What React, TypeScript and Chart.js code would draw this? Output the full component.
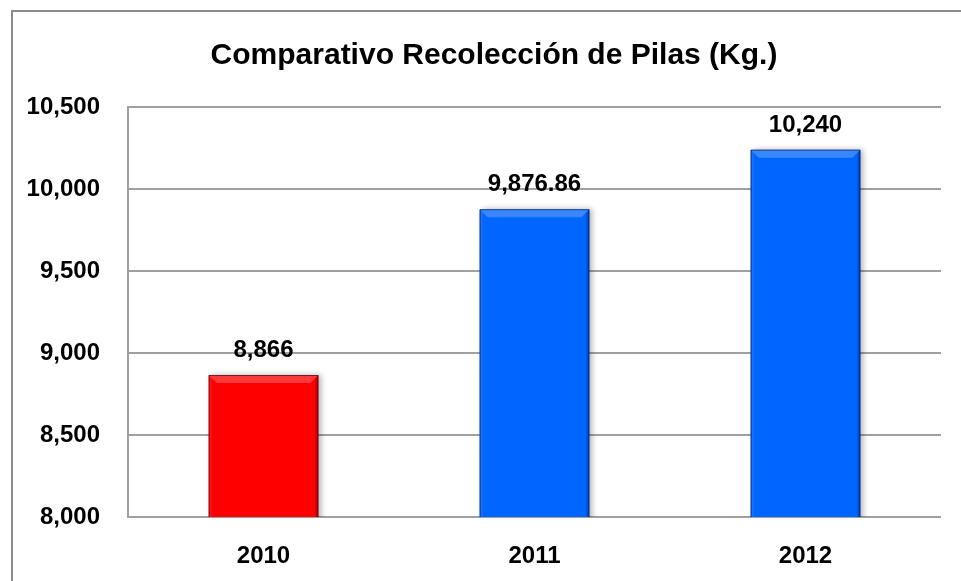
import React, { useEffect, useRef } from "react";
import { Chart, registerables } from "chart.js";

Chart.register(...registerables);

const categories = ["2010", "2011", "2012"];
const values = [8866, 9876.86, 10240];
const barColors = ["#ff0000", "#0066ff", "#0066ff"];
const yMin = 8000;
const yMax = 10500;
const yStep = 500;
const titleText = "Comparativo Recolección de Pilas (Kg.)";

const REG = "'Liberation Sans', Arial, sans-serif";

const fmt = (v: number) => v.toLocaleString("en-US", { maximumFractionDigits: 2 });

const barStyle = {
  id: "barStyle",
  beforeDatasetsDraw(chart: any) {
    const ctx = chart.ctx;
    ctx.save();
    ctx.shadowColor = "rgba(0,0,0,0.3)";
    ctx.shadowBlur = 6;
    ctx.shadowOffsetX = 3;
    ctx.shadowOffsetY = 0;
  },
  afterDatasetsDraw(chart: any) {
    const ctx = chart.ctx;
    ctx.restore();
    const area = chart.chartArea;
    const meta = chart.getDatasetMeta(0);
    meta.data.forEach((bar: any, i: number) => {
      const p = bar.getProps(["x", "y", "base", "width"], true);
      const x = p.x;
      const y = p.y;
      const width = p.width;
      const base = Math.min(p.base, area.bottom);
      const l = x - width / 2;
      const r = x + width / 2;
      const b = 8;
      ctx.save();
      ctx.beginPath();
      ctx.rect(area.left, area.top - 5, area.right - area.left, area.bottom - area.top + 5);
      ctx.clip();
      // top bevel
      ctx.beginPath();
      ctx.moveTo(l, y);
      ctx.lineTo(r, y);
      ctx.lineTo(r - b, y + b);
      ctx.lineTo(l + b, y + b);
      ctx.closePath();
      ctx.fillStyle = "rgba(255,255,255,0.22)";
      ctx.fill();
      // left bevel
      ctx.beginPath();
      ctx.moveTo(l, y);
      ctx.lineTo(l + 3, y + 3);
      ctx.lineTo(l + 3, base);
      ctx.lineTo(l, base);
      ctx.closePath();
      ctx.fillStyle = "rgba(255,255,255,0.08)";
      ctx.fill();
      // right bevel
      ctx.beginPath();
      ctx.moveTo(r, y);
      ctx.lineTo(r - 3, y + 3);
      ctx.lineTo(r - 3, base);
      ctx.lineTo(r, base);
      ctx.closePath();
      ctx.fillStyle = "rgba(0,0,0,0.2)";
      ctx.fill();
      ctx.beginPath();
      ctx.moveTo(l + 0.5, base);
      ctx.lineTo(l + 0.5, y + 0.5);
      ctx.lineTo(r - 0.5, y + 0.5);
      ctx.lineTo(r - 0.5, base);
      ctx.strokeStyle = "rgba(0,0,40,0.55)";
      ctx.lineWidth = 1;
      ctx.stroke();
      ctx.restore();

      // value label
      ctx.save();
      ctx.font = `bold 24px ${REG}`;
      ctx.fillStyle = "#000";
      ctx.textAlign = "center";
      ctx.textBaseline = "alphabetic";
      ctx.fillText(fmt(values[i]), x, y - 18);
      ctx.restore();
    });
  },
};

export default function App() {
  const ref = useRef<HTMLCanvasElement | null>(null);
  useEffect(() => {
    document.body.style.margin = "0";
    document.body.style.overflow = "hidden";
    const chart = new Chart(ref.current as HTMLCanvasElement, {
      type: "bar",
      data: {
        labels: categories,
        datasets: [
          {
            data: values,
            backgroundColor: barColors,
            borderWidth: 0,
            barPercentage: 0.405,
            categoryPercentage: 1,
          },
        ],
      },
      options: {
        animation: false,
        responsive: false,
        maintainAspectRatio: false,
        layout: { padding: 0 },
        plugins: {
          legend: { display: false },
          tooltip: { enabled: false },
          title: {
            display: true,
            text: titleText,
            color: "#000",
            font: { family: REG, size: 30, weight: "bold" },
            padding: { top: 26, bottom: 33 },
          },
        },
        scales: {
          x: {
            grid: { display: false },
            border: { display: false },
            ticks: {
              color: "#000",
              font: { family: REG, size: 24, weight: "bold" },
              padding: 17,
            },
            afterFit: (s: any) => {
              s.height = 64;
            },
          },
          y: {
            min: yMin,
            max: yMax,
            grid: { color: "#a0a0a0", lineWidth: 2, drawTicks: false },
            border: { display: true, color: "#a0a0a0", width: 2 },
            ticks: {
              stepSize: yStep,
              color: "#000",
              font: { family: REG, size: 24, weight: "bold" },
              padding: 28,
              callback: (v: any) => fmt(Number(v)),
            },
            afterFit: (s: any) => {
              s.width = 115;
            },
          },
          y2: {
            position: "right",
            min: 0,
            max: 1,
            grid: { display: false },
            border: { display: false },
            ticks: { display: false },
            afterFit: (s: any) => {
              s.width = 34;
            },
          },
        },
      },
      plugins: [barStyle],
    });
    return () => chart.destroy();
  }, []);

  return (
    <div style={{ position: "fixed", left: 0, top: 0, width: 961, height: 581, overflow: "hidden", background: "#fff" }}>
      <div
        style={{
          position: "absolute",
          left: 11,
          top: 10,
          width: 964,
          height: 600,
          borderTop: "2px solid #8c8c8c",
          borderLeft: "2px solid #8c8c8c",
          boxSizing: "border-box",
        }}
      >
        <canvas ref={ref} width={962} height={569} style={{ display: "block", width: 962, height: 569 }} />
      </div>
    </div>
  );
}
